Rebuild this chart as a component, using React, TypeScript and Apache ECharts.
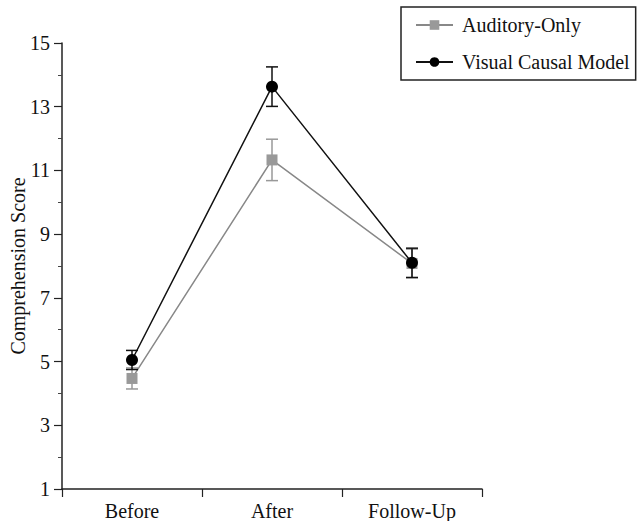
import React, { useEffect, useRef } from "react";
import * as echarts from "echarts";

const categories = ["Before", "After", "Follow-Up"];
const auditoryMeans = [4.47, 11.33, 8.08];
const auditoryErr = [0.33, 0.65, 0.45];
const visualMeans = [5.05, 13.63, 8.1];
const visualErr = [0.3, 0.62, 0.46];
const yTicks = { min: 1, max: 15, interval: 2 };

const FONT = "'Liberation Serif', 'Times New Roman', serif";

function errData(means: number[], errs: number[]) {
  return means.map((m, i) => [i, m - errs[i], m + errs[i]]);
}

function errSeries(name: string, means: number[], errs: number[], color: string, z: number) {
  return {
    type: "custom",
    name,
    z,
    data: errData(means, errs),
    encode: { x: 0, y: [1, 2] },
    renderItem: (params: any, api: any) => {
      const x = api.value(0);
      const lo = api.coord([x, api.value(1)]);
      const hi = api.coord([x, api.value(2)]);
      const w = 6;
      const style = { stroke: color, lineWidth: 1.5 };
      return {
        type: "group",
        children: [
          { type: "line", shape: { x1: lo[0], y1: lo[1], x2: hi[0], y2: hi[1] }, style },
          { type: "line", shape: { x1: lo[0] - w, y1: lo[1], x2: lo[0] + w, y2: lo[1] }, style },
          { type: "line", shape: { x1: hi[0] - w, y1: hi[1], x2: hi[0] + w, y2: hi[1] }, style },
        ],
      };
    },
  };
}

export default function App() {
  const ref = useRef<HTMLDivElement>(null);
  useEffect(() => {
    if (!ref.current) return;
    const chart = echarts.init(ref.current, undefined, { renderer: "svg" });
    chart.setOption({
      animation: false,
      backgroundColor: "#fff",
      textStyle: { fontFamily: FONT },
      grid: { left: 62, right: 155, top: 43, bottom: 32, containLabel: false, outerBoundsMode: "none" },
      legend: {
        data: ["Auditory-Only", "Visual Causal Model"],
        orient: "vertical",
        left: 401,
        top: 7,
        padding: [8, 6, 8, 14],
        itemGap: 17,
        itemWidth: 37,
        itemHeight: 12,
        borderColor: "#222",
        borderWidth: 1.5,
        textStyle: { fontFamily: FONT, fontSize: 20, color: "#111", padding: [0, 0, 0, 4] },
      },
      xAxis: {
        type: "category",
        data: categories,
        boundaryGap: true,
        axisLine: { lineStyle: { color: "#222", width: 1.5 } },
        axisTick: { show: true, length: 8, lineStyle: { color: "#222", width: 1.2 } },
        axisLabel: { fontFamily: FONT, fontSize: 20, color: "#111", margin: 12 },
        splitLine: { show: false },
      },
      yAxis: {
        type: "value",
        min: yTicks.min,
        max: yTicks.max,
        interval: yTicks.interval,
        name: "Comprehension Score",
        nameLocation: "middle",
        nameGap: 34,
        nameMoveOverlap: false,
        nameTextStyle: { fontFamily: FONT, fontSize: 20, color: "#111" },
        axisLine: { show: true, lineStyle: { color: "#222", width: 1.5 } },
        axisTick: { show: true, length: 8, lineStyle: { color: "#222", width: 1.2 } },
        minorTick: { show: true, splitNumber: 2, length: 4, lineStyle: { color: "#444", width: 1 } },
        axisLabel: { fontFamily: FONT, fontSize: 20, color: "#111", margin: 12 },
        splitLine: { show: false },
        minorSplitLine: { show: false },
      },
      series: [
        errSeries("auditory-err", auditoryMeans, auditoryErr, "#999", 2),
        {
          type: "line",
          name: "Auditory-Only",
          data: auditoryMeans,
          z: 3,
          symbol: "rect",
          symbolSize: 11,
          itemStyle: { color: "#999" },
          lineStyle: { color: "#888", width: 1.5 },
        },
        errSeries("visual-err", visualMeans, visualErr, "#111", 4),
        {
          type: "line",
          name: "Visual Causal Model",
          data: visualMeans,
          z: 5,
          symbol: "circle",
          symbolSize: 12,
          itemStyle: { color: "#000" },
          lineStyle: { color: "#111", width: 1.5 },
        },
      ],
    });
    return () => chart.dispose();
  }, []);
  return <div ref={ref} style={{ width: 637, height: 521, position: "absolute", left: 0, top: 0 }} />;
}
